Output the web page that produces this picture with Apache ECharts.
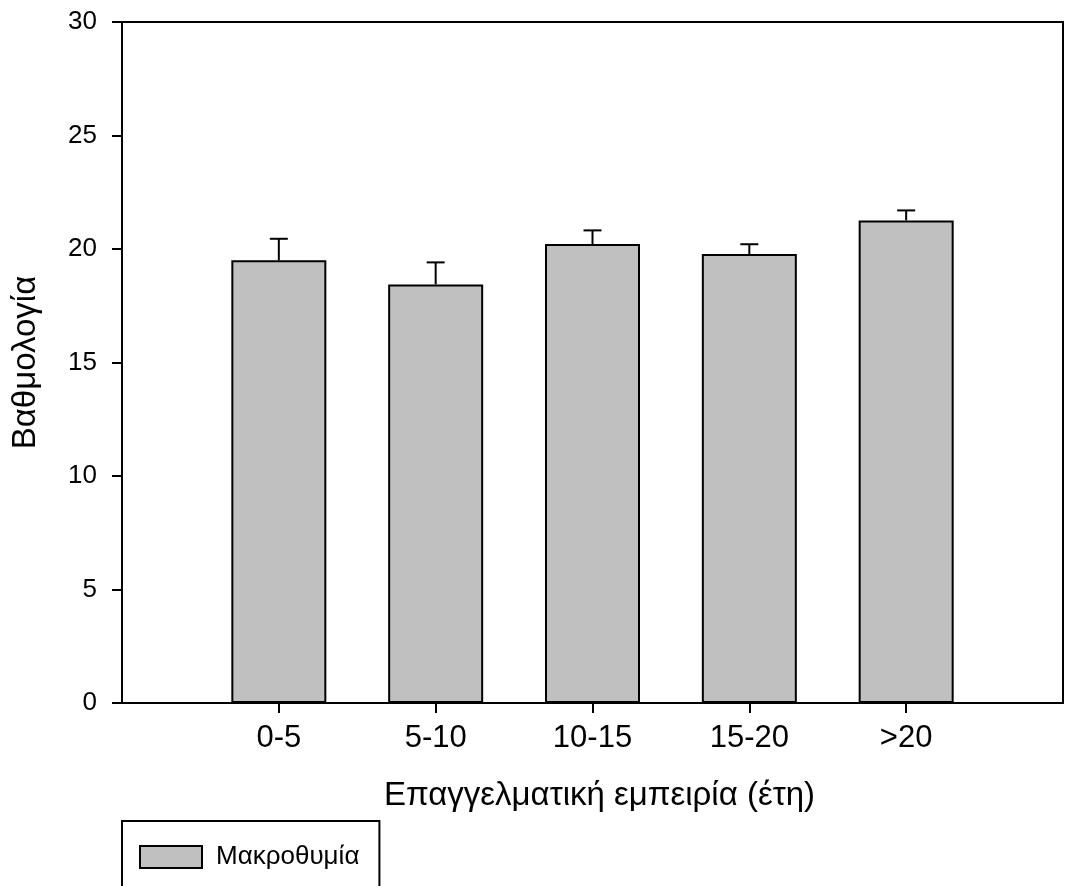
<!DOCTYPE html>
<html>
<head>
<meta charset="utf-8">
<script src="https://cdn.jsdelivr.net/npm/echarts@6/dist/echarts.min.js"></script>
<style>
html,body{margin:0;padding:0;background:#fff;}
#chart{width:1066px;height:886px;}
</style>
</head>
<body>
<div id="chart"></div>
<script>
const categories = ['0-5', '5-10', '10-15', '15-20', '>20'];
const meanValues = [19.50, 18.44, 20.22, 19.78, 21.26];
const errorValues = [0.95, 0.97, 0.60, 0.43, 0.44];
const yTicks = [0, 5, 10, 15, 20, 25, 30];
const seriesName = 'Μακροθυμία';
const xTitle = 'Επαγγελματική εμπειρία (έτη)';
const yTitle = 'Βαθμολογία';

const FONT = '"Liberation Sans", Arial, sans-serif';
const paddedCats = [''].concat(categories, ['']);
const barData = ['-'].concat(meanValues, ['-']);
const errData = meanValues.map((m, i) => [i + 1, m, m + errorValues[i]]);

const chart = echarts.init(document.getElementById('chart'), null, {renderer: 'canvas'});
chart.setOption({
  animation: false,
  backgroundColor: '#fff',
  grid: {left: 122, top: 22, right: 1, bottom: 183, show: true, borderColor: '#000', borderWidth: 2, backgroundColor: 'transparent'},
  legend: {
    data: [seriesName], left: 122, top: 821, orient: 'horizontal',
    padding: [23, 20, 40, 17], itemWidth: 62, itemHeight: 22,
    borderColor: '#000', borderWidth: 2, icon: 'rect',
    itemStyle: {color: '#c0c0c0', borderColor: '#000', borderWidth: 2},
    textStyle: {fontFamily: FONT, fontSize: 26, color: '#000', padding: [0, 0, 0, 9]}
  },
  xAxis: {
    type: 'category', data: paddedCats, boundaryGap: false,
    name: xTitle, nameLocation: 'middle', nameGap: 76,
    nameTextStyle: {fontFamily: FONT, fontSize: 33, color: '#000', padding: [0, 0, 0, 14]},
    axisLine: {show: true, lineStyle: {color: '#000', width: 2}},
    axisTick: {show: true, length: 10, inside: false, lineStyle: {color: '#000', width: 2},
      interval: (idx) => idx > 0 && idx < paddedCats.length - 1},
    axisLabel: {fontFamily: FONT, fontSize: 31, color: '#000', margin: 20, interval: 0},
    splitLine: {show: false}
  },
  yAxis: {
    type: 'value', min: yTicks[0], max: yTicks[yTicks.length - 1], interval: 5,
    name: yTitle, nameLocation: 'middle', nameGap: 80, nameRotate: 90,
    nameTextStyle: {fontFamily: FONT, fontSize: 33, color: '#000'},
    axisLine: {show: true, lineStyle: {color: '#000', width: 2}},
    axisTick: {show: true, length: 10, inside: false, lineStyle: {color: '#000', width: 2}},
    axisLabel: {fontFamily: FONT, fontSize: 26, color: '#000', margin: 25},
    splitLine: {show: false}
  },
  series: [
    {
      name: seriesName, type: 'bar', data: barData, barWidth: 95,
      itemStyle: {color: '#c0c0c0', borderColor: '#000', borderWidth: 2}
    },
    {
      name: 'err', type: 'custom', data: errData, z: 3,
      encode: {x: 0, y: [1, 2]},
      renderItem: function (params, api) {
        const top = api.coord([api.value(0), api.value(2)]);
        const base = api.coord([api.value(0), api.value(1)]);
        const half = 9;
        const style = {stroke: '#000', lineWidth: 2, fill: null};
        return {
          type: 'group',
          children: [
            {type: 'line', shape: {x1: base[0], y1: base[1], x2: top[0], y2: top[1]}, style: style},
            {type: 'line', shape: {x1: top[0] - half, y1: top[1], x2: top[0] + half, y2: top[1]}, style: style}
          ]
        };
      }
    }
  ]
});
</script>
</body>
</html>
